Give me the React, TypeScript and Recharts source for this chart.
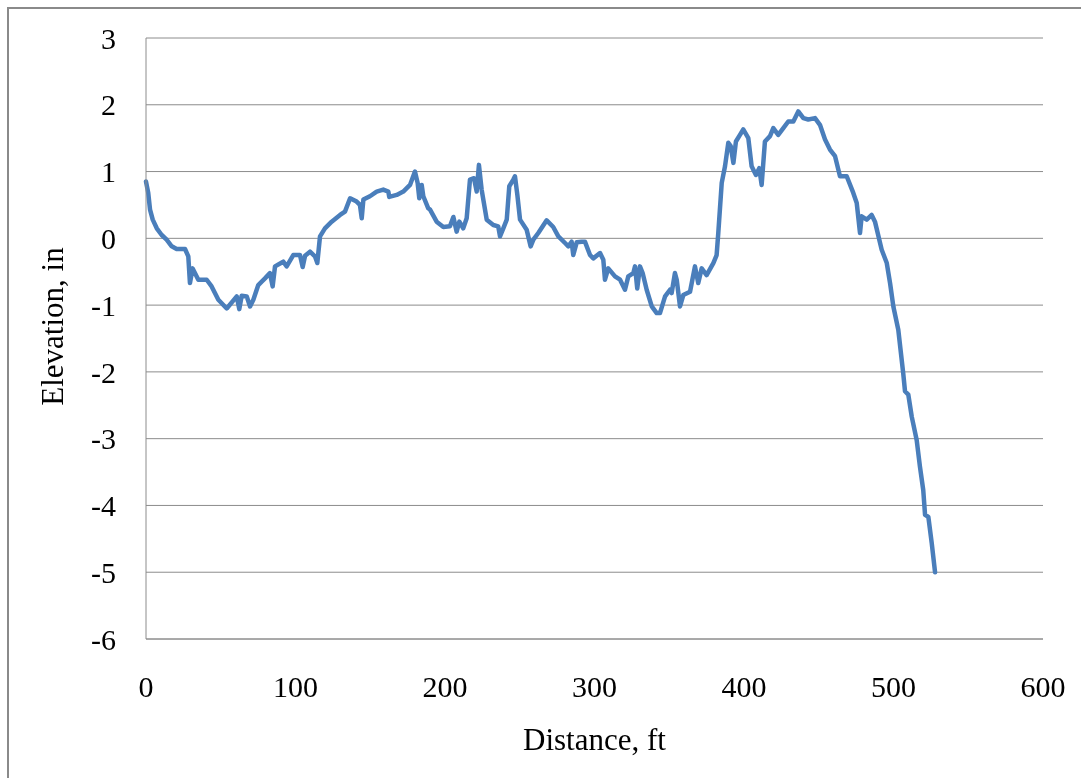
import React from 'react';
import { LineChart, Line, XAxis, YAxis, CartesianGrid, Label } from 'recharts';

const distanceFt: number[] = [
  0, 1.5, 2.7, 4.5, 7.2, 10.5, 13.8, 17.2, 20.5, 26.1,
  28.3, 29.4, 31.2, 35.0, 40.6, 43.9, 48.4, 54.0, 60.7, 62.4,
  64.0, 67.4, 69.6, 71.8, 75.1, 79.6, 82.9, 84.7, 86.3, 91.8,
  94.1, 98.5, 103.0, 104.8, 106.4, 109.7, 113.0, 114.6, 116.4, 119.7,
  124.2, 129.8, 133.1, 136.5, 140.9, 143.1, 144.3, 145.4, 149.8, 154.3,
  158.7, 162.1, 162.7, 167.7, 172.1, 176.6, 179.9, 181.7, 182.8, 184.4,
  185.5, 188.8, 190.0, 194.4, 198.9, 203.3, 205.6, 207.8, 209.6, 212.2,
  214.5, 216.7, 219.4, 221.2, 222.7, 224.5, 227.9, 232.3, 235.6, 236.8,
  239.0, 241.3, 243.0, 245.7, 246.8, 248.4, 250.2, 254.6, 257.3, 259.1,
  262.4, 268.0, 272.4, 275.8, 280.3, 282.5, 284.7, 285.8, 288.1, 291.4,
  293.6, 297.0, 299.2, 303.7, 305.9, 307.0, 309.2, 313.7, 317.1, 320.4,
  322.6, 326.0, 327.1, 328.6, 330.4, 332.2, 334.9, 338.3, 341.6, 343.8,
  347.2, 350.5, 351.6, 353.8, 355.0, 357.2, 359.4, 363.9, 367.2, 369.4,
  371.7, 375.0, 379.5, 381.7, 382.8, 385.1, 387.3, 389.5, 391.1, 392.9,
  394.6, 397.3, 399.5, 402.9, 405.1, 408.0, 410.2, 411.8, 414.0, 417.4,
  419.6, 422.9, 426.3, 429.6, 433.0, 436.3, 439.7, 443.0, 447.5, 450.8,
  454.2, 457.5, 460.9, 464.2, 468.7, 473.1, 475.4, 477.6, 478.7, 482.1,
  485.4, 487.6, 492.1, 495.5, 497.7, 499.9, 503.2, 506.5, 507.7, 509.9,
  512.2, 515.5, 517.7, 519.9, 521.1, 523.3, 525.6, 527.8,
];

const elevationIn: number[] = [
  0.85, 0.68, 0.43, 0.28, 0.15, 0.05, -0.02, -0.12, -0.16, -0.16,
  -0.27, -0.67, -0.45, -0.62, -0.62, -0.72, -0.92, -1.05, -0.87, -1.06,
  -0.86, -0.87, -1.02, -0.92, -0.70, -0.60, -0.52, -0.72, -0.42, -0.35,
  -0.42, -0.25, -0.25, -0.43, -0.26, -0.20, -0.27, -0.37, 0.03, 0.15,
  0.25, 0.35, 0.40, 0.60, 0.55, 0.50, 0.30, 0.58, 0.63, 0.70,
  0.73, 0.70, 0.62, 0.65, 0.70, 0.80, 1.00, 0.83, 0.60, 0.80,
  0.63, 0.45, 0.43, 0.25, 0.17, 0.18, 0.32, 0.10, 0.25, 0.15,
  0.30, 0.88, 0.90, 0.70, 1.10, 0.73, 0.28, 0.20, 0.18, 0.03,
  0.15, 0.28, 0.78, 0.88, 0.93, 0.65, 0.28, 0.13, -0.12, -0.02,
  0.08, 0.27, 0.17, 0.03, -0.07, -0.12, -0.05, -0.25, -0.06, -0.05,
  -0.05, -0.25, -0.30, -0.22, -0.32, -0.62, -0.45, -0.57, -0.62, -0.77,
  -0.57, -0.52, -0.42, -0.75, -0.42, -0.52, -0.77, -1.02, -1.12, -1.12,
  -0.87, -0.77, -0.82, -0.52, -0.62, -1.02, -0.85, -0.80, -0.42, -0.67,
  -0.45, -0.55, -0.37, -0.25, 0.08, 0.83, 1.08, 1.43, 1.38, 1.13,
  1.45, 1.55, 1.63, 1.50, 1.08, 0.95, 1.05, 0.80, 1.45, 1.53,
  1.65, 1.55, 1.65, 1.75, 1.75, 1.90, 1.80, 1.78, 1.80, 1.70,
  1.48, 1.33, 1.23, 0.93, 0.93, 0.68, 0.53, 0.08, 0.33, 0.28,
  0.35, 0.25, -0.17, -0.37, -0.67, -1.02, -1.37, -2.02, -2.29, -2.34,
  -2.67, -3.02, -3.42, -3.77, -4.14, -4.17, -4.57, -5.0,
];

const xTicks: number[] = [0, 100, 200, 300, 400, 500, 600];
const yTicks: number[] = [-6, -5, -4, -3, -2, -1, 0, 1, 2, 3];
const xTitle = 'Distance, ft';
const yTitle = 'Elevation, in';

const data = distanceFt.map((d, i) => ({ d, e: elevationIn[i] }));

const FONT = '"Liberation Serif", "Times New Roman", serif';
const GRID = '#8c8c8c';

const YTitleContent = (props: any) => {
  const vb = props.viewBox || {};
  const cx = (vb.x ?? 0) + 44;
  const cy = (vb.y ?? 0) + (vb.height ?? 0) / 2 - 12;
  return (
    <text
      x={cx}
      y={cy}
      transform={`rotate(-90, ${cx}, ${cy})`}
      textAnchor="middle"
      dominantBaseline="central"
      fontFamily={FONT}
      fontSize={31}
      fill="#000"
    >
      {yTitle}
    </text>
  );
};

const XTitleContent = (props: any) => {
  const vb = props.viewBox || {};
  const cx = (vb.x ?? 0) + (vb.width ?? 0) / 2;
  const cy = (vb.y ?? 0) + 111;
  return (
    <text x={cx} y={cy} textAnchor="middle" fontFamily={FONT} fontSize={31} fill="#000">
      {xTitle}
    </text>
  );
};

export default function App() {
  return (
    <div style={{ position: 'relative', width: 1073, height: 770 }}>
      <div
        style={{
          position: 'fixed',
          left: 7,
          top: 7,
          width: 1074,
          height: 771,
          borderTop: '2px solid #8a8a8a',
          borderLeft: '2px solid #8a8a8a',
          boxSizing: 'border-box',
          pointerEvents: 'none',
        }}
      />
      <LineChart
        width={1073}
        height={770}
        data={data}
        margin={{ top: 30, right: 38, bottom: 0, left: 0 }}
      >
        <CartesianGrid vertical={false} stroke={GRID} strokeWidth={1} />
        <XAxis
          type="number"
          dataKey="d"
          domain={[0, 600]}
          ticks={xTicks}
          height={139}
          tickSize={0}
          tickMargin={37}
          axisLine={{ stroke: GRID }}
          tickLine={false}
          tick={{ fontFamily: FONT, fontSize: 30, fill: '#000' }}
          interval={0}
        >
          <Label content={XTitleContent} />
        </XAxis>
        <YAxis
          type="number"
          domain={[-6, 3]}
          ticks={yTicks}
          width={138}
          tickSize={0}
          tickMargin={30}
          axisLine={{ stroke: GRID }}
          tickLine={false}
          tick={{ fontFamily: FONT, fontSize: 30, fill: '#000' }}
          interval={0}
        >
          <Label content={YTitleContent} />
        </YAxis>
        <Line
          type="linear"
          dataKey="e"
          stroke="#4a7ebb"
          strokeWidth={4.5}
          strokeLinejoin="round"
          strokeLinecap="round"
          dot={false}
          isAnimationActive={false}
        />
      </LineChart>
    </div>
  );
}
